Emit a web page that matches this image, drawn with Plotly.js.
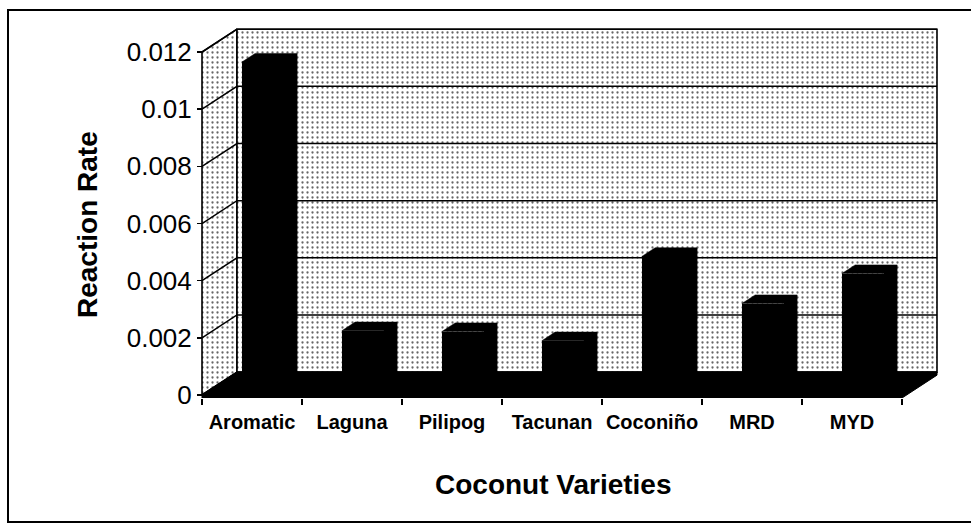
<!DOCTYPE html>
<html><head><meta charset="utf-8">
<script src="https://cdn.plot.ly/plotly-3.0.1.min.js"></script>
<style>html,body{margin:0;padding:0;background:#fff}#chart{width:971px;height:526px}</style>
</head><body><div id="chart"></div>
<script>
// ---- data ----
const categories = ['Aromatic', 'Laguna', 'Pilipog', 'Tacunan', 'Coconiño', 'MRD', 'MYD'];
const reactionRate = [0.0114, 0.0020, 0.00197, 0.00165, 0.0046, 0.00295, 0.0040];
const yTickVals = [0, 0.002, 0.004, 0.006, 0.008, 0.010, 0.012];
const yTickText = ['0', '0.002', '0.004', '0.006', '0.008', '0.01', '0.012'];
const xTitle = 'Coconut Varieties';
const yTitle = 'Reaction Rate';

// ---- 3-D look (oblique projection, in axis units) ----
const DX = 0.35, DY = 0.0008;        // full depth of the chart box
const D1 = 0.31, D2 = 0.69;          // bar front / back depth fractions
const HW = 0.21;                     // half bar width
const FT = 0.000105;                 // floor thickness
const nCat = categories.length;
const yTop = yTickVals[yTickVals.length - 1];
const FONT = "Arial, 'Liberation Sans', sans-serif";

const xRange = [-0.02, nCat + DX + 0.02];
const yMin = -FT, yMax = -FT + 378 / 28580;

const pattern = {shape: '.', size: 5, solidity: 0.16, fgcolor: '#666666', bgcolor: '#ffffff', fillmode: 'replace'};
const traces = [];

// side wall
traces.push({type: 'scatter', mode: 'lines', hoverinfo: 'skip', showlegend: false,
  x: [0, DX, DX, 0, 0], y: [0, DY, yTop + DY, yTop, 0],
  fill: 'toself', fillcolor: '#ffffff', fillpattern: pattern, line: {color: '#000', width: 1.6}});
// back wall
traces.push({type: 'scatter', mode: 'lines', hoverinfo: 'skip', showlegend: false,
  x: [DX, nCat + DX, nCat + DX, DX, DX], y: [DY, DY, yTop + DY, yTop + DY, DY],
  fill: 'toself', fillcolor: '#ffffff', fillpattern: pattern, line: {color: '#000', width: 1.6}});
// gridlines on walls
const gx = [], gy = [];
yTickVals.forEach(v => {
  gx.push(0, DX, nCat + DX, null);
  gy.push(v, v + DY, v + DY, null);
});
traces.push({type: 'scatter', mode: 'lines', hoverinfo: 'skip', showlegend: false,
  x: gx, y: gy, line: {color: '#000', width: 1.5}});
// floor
traces.push({type: 'scatter', mode: 'lines', hoverinfo: 'skip', showlegend: false,
  x: [0, nCat, nCat + DX, nCat + DX, DX, 0, 0],
  y: [-FT, -FT, DY - FT, DY, DY, 0, -FT],
  fill: 'toself', fillcolor: '#000', line: {color: '#000', width: 1}});

// bars: front faces
traces.push({type: 'bar', xaxis: 'x2', yaxis: 'y2', showlegend: false,
  x: categories.map((c, i) => i + 0.5 + D1 * DX),
  y: reactionRate,
  base: reactionRate.map(() => D1 * DY),
  width: 2 * HW,
  marker: {color: '#000', line: {width: 0}},
  textposition: 'none',
  hovertext: categories, hovertemplate: '%{hovertext}: %{y}<extra></extra>'});
// bars: top and side faces
reactionRate.forEach((v, i) => {
  const xl = i + 0.5 - HW + D1 * DX, xr = i + 0.5 + HW + D1 * DX;
  const bdx = (D2 - D1) * DX, bdy = (D2 - D1) * DY;
  const yt = v + D1 * DY;
  traces.push({type: 'scatter', mode: 'lines', xaxis: 'x2', yaxis: 'y2', hoverinfo: 'skip', showlegend: false,
    x: [xl, xl + bdx, xr + bdx, xr + bdx, xr, xr, xl],
    y: [yt, yt + bdy, yt + bdy, D2 * DY, D1 * DY, yt, yt],
    fill: 'toself', fillcolor: '#000', line: {color: '#000', width: 0.5}});
});

// outer frame (left, top, bottom only)
const fx0 = (8 - 200) / 739, fx1 = (971 - 200) / 739;
const fy0 = (398 - 522) / 378, fy1 = (398 - 10) / 378;

const layout = {
  width: 971, height: 526,
  margin: {l: 200, r: 971 - 200 - 739, t: 20, b: 128},
  paper_bgcolor: '#fff', plot_bgcolor: 'rgba(0,0,0,0)',
  font: {family: FONT, color: '#000'},
  showlegend: false,
  bargap: 0,
  xaxis: {range: xRange, showgrid: false, zeroline: false, showline: false,
    tickvals: categories.map((c, i) => i + 0.5), ticktext: categories, ticks: '',
    tickfont: {family: FONT, size: 20, weight: 'bold', color: '#000'},
    ticklabelstandoff: 10,
    minor: {tickvals: categories.map((c, i) => i).concat([nCat]), ticks: 'outside', ticklen: 6, tickwidth: 1.5, tickcolor: '#000', showgrid: false}},
  yaxis: {range: [yMin, yMax], showgrid: false, zeroline: false, showline: false,
    anchor: 'free', position: 0.02 / 7.39,
    tickvals: yTickVals, ticktext: yTickText, ticks: 'outside', ticklen: 5, tickwidth: 1.5, tickcolor: '#000',
    tickfont: {family: FONT, size: 26, color: '#000'}},
  xaxis2: {overlaying: 'x', anchor: 'y2', range: xRange, visible: false},
  yaxis2: {overlaying: 'y', anchor: 'x2', range: [yMin, yMax], visible: false},
  annotations: [
    {text: xTitle, xref: 'paper', yref: 'paper', x: (553 - 200) / 739, y: (398 - 484) / 378,
      xanchor: 'center', yanchor: 'middle', showarrow: false,
      font: {family: FONT, size: 28, weight: 'bold', color: '#000'}},
    {text: yTitle, xref: 'paper', yref: 'paper', x: (87 - 200) / 739, y: (398 - 224) / 378,
      xanchor: 'center', yanchor: 'middle', textangle: -90, showarrow: false,
      font: {family: FONT, size: 28, weight: 'bold', color: '#000'}}
  ],
  shapes: [
    {type: 'path', xref: 'paper', yref: 'paper',
      path: `M ${fx1},${fy1} L ${fx0},${fy1} L ${fx0},${fy0} L ${fx1},${fy0}`,
      line: {color: '#000', width: 2}, fillcolor: 'rgba(0,0,0,0)'}
  ]
};

Plotly.newPlot('chart', traces, layout, {displayModeBar: false, staticPlot: true});
</script></body></html>
